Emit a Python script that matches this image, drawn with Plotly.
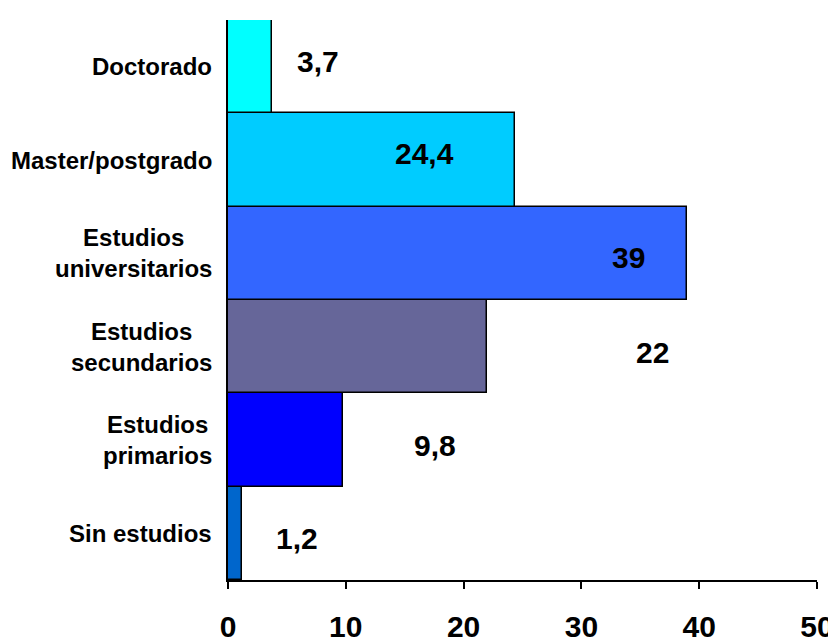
import plotly.graph_objects as go

categories = ["Sin estudios", "Estudios<br>primarios", "Estudios<br>secundarios",
              "Estudios<br>universitarios", "Master/postgrado", "Doctorado"]
values = [1.2, 9.8, 22, 39, 24.4, 3.7]
value_labels = ["1,2", "9,8", "22", "39", "24,4", "3,7"]
colors = ["#0066CC", "#0000FF", "#666699", "#3366FF", "#00CCFF", "#00FFFF"]
x_ticks = [0, 10, 20, 30, 40, 50]

# label placement (layout, not data)
label_x = [5.83, 17.57, 36.0, 33.96, 16.72, 7.62]
label_yshift = [-5, -5, -6, -4, 7, 5]

FONT = "Arial, Liberation Sans, sans-serif"

fig = go.Figure()
fig.add_trace(go.Bar(
    y=list(range(len(categories))), x=values, orientation="h",
    marker=dict(color=colors, line=dict(color="black", width=1.5)),
    width=1, hoverinfo="skip",
))

annotations = []
for i, (lx, txt, ys) in enumerate(zip(label_x, value_labels, label_yshift)):
    annotations.append(dict(x=lx, y=i, xref="x", yref="y", text="<b>%s</b>" % txt,
                            showarrow=False, xanchor="center", yanchor="middle",
                            yshift=ys, font=dict(family=FONT, size=30, color="black")))
for i, cat in enumerate(categories):
    annotations.append(dict(x=0, y=i, xref="paper", yref="y", text="<b>%s</b>" % cat,
                            showarrow=False, xanchor="right", yanchor="middle", align="center",
                            xshift=-14, font=dict(family=FONT, size=24, color="black")))

fig.update_layout(
    width=828, height=634,
    margin=dict(l=220, r=19, t=12, b=62, autoexpand=False),
    paper_bgcolor="white", plot_bgcolor="white",
    showlegend=False, bargap=0,
    annotations=annotations,
    xaxis=dict(range=[0, 50], tickvals=x_ticks, ticktext=["<b>%d</b>" % t for t in x_ticks],
               showline=True, linecolor="black", linewidth=1.5, ticks="outside", ticklen=7,
               tickwidth=1.5, tickcolor="black", showgrid=False, zeroline=False,
               ticklabelstandoff=12, automargin=False,
               tickfont=dict(family=FONT, size=30, color="black")),
    yaxis=dict(range=[-0.5, 5.5], showticklabels=False, showline=True, linecolor="black",
               linewidth=1.5, ticks="", showgrid=False, zeroline=False, automargin=False),
)

fig.write_html("out.html")
